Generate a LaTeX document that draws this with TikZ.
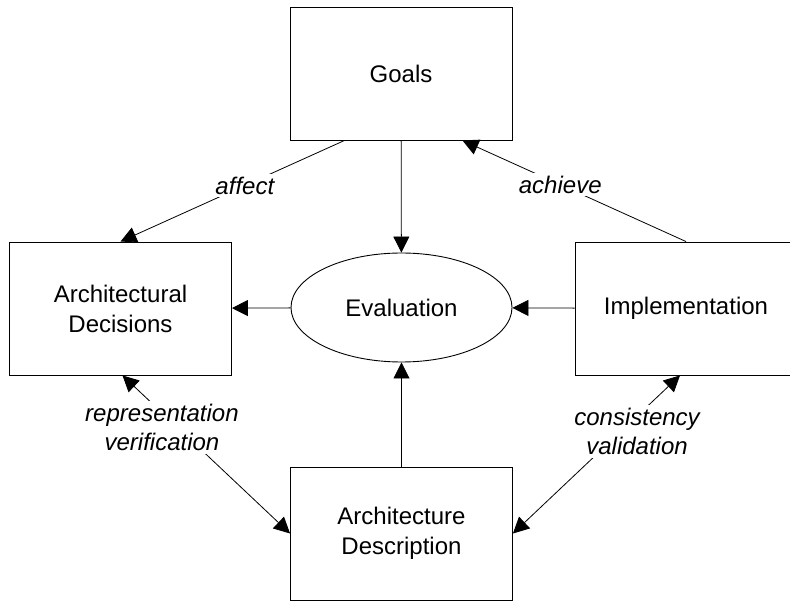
\documentclass[tikz,border=0pt]{standalone}
\usepackage{fontspec}
\setmainfont{Liberation Sans}
\usetikzlibrary{arrows.meta,shapes.geometric}
\tikzset{
  boxnode/.style={draw, line width=0.9pt, minimum width=222pt, minimum height=133pt, align=center, inner sep=0pt},
  evalnode/.style={draw, line width=0.9pt, ellipse, minimum width=221pt, minimum height=109pt, inner sep=0pt},
  conn/.style={line width=0.8pt, -{Triangle[length=16pt,width=16pt]}},
  dconn/.style={line width=0.8pt, {Triangle[length=16pt,width=16pt]}-{Triangle[length=16pt,width=16pt]}},
  lbl/.style={fill=white, inner sep=3pt, align=center, font=\fontsize{24}{29}\selectfont\itshape}
}
\begin{document}
\begin{tikzpicture}[x=1pt,y=-1pt,font=\fontsize{24}{30}\selectfont]
\useasboundingbox[fill=white] (0,0) rectangle (790,601);
\node[boxnode] (goals) at (401,73.5) {Goals};
\node[boxnode] (dec) at (120.5,308.5) {Architectural\\Decisions};
\node[boxnode] (impl) at (686,308.5) {Implementation};
\node[boxnode] (ad) at (401.5,533.5) {Architecture\\Description};
\node[evalnode] (eval) at (401.5,307.5) {Evaluation};

\draw[conn] (goals) -- (eval);
\draw[conn] (eval) -- (dec);
\draw[conn] (impl) -- (eval);
\draw[conn] (ad) -- (eval);
\draw[conn] ([xshift=55pt]goals.south west) -- node[lbl, pos=0.445] (laffect) {affect} (dec.north);
\draw[conn] (impl.north) -- node[lbl, pos=0.5625] (lachieve) {achieve} ([xshift=-50pt]goals.south east);
\draw[dconn] ([xshift=2pt]dec.south) -- node[lbl, pos=0.328, xshift=-15.5pt] (lrep) {representation\\verification} (ad.west);
\draw[dconn] ([xshift=-6pt]impl.south) -- node[lbl, pos=0.353, xshift=16pt] (lcons) {consistency\\validation} (ad.east);
\end{tikzpicture}
\end{document}
